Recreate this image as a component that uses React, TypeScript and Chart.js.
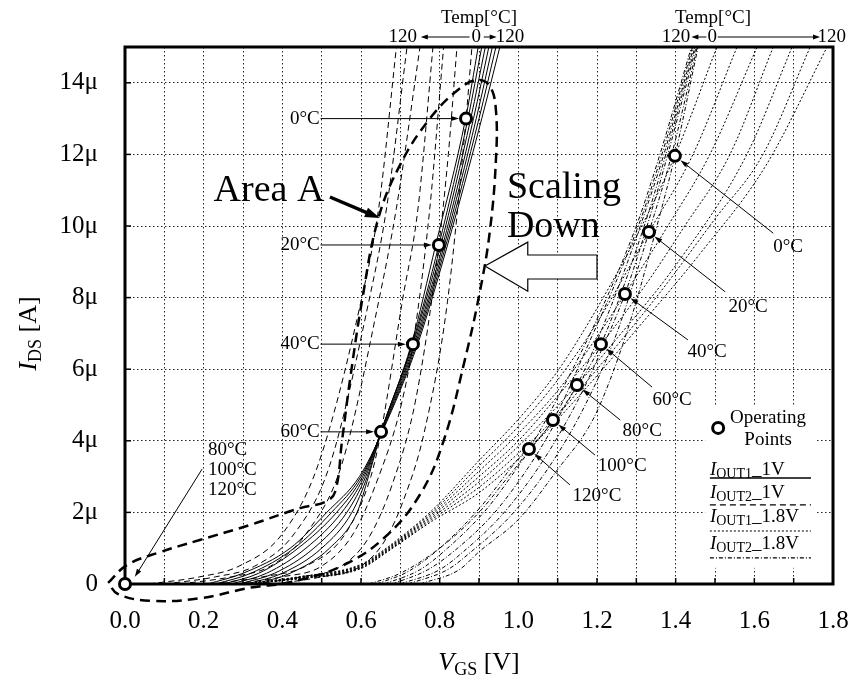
import React, { useEffect, useRef } from "react";
import { Chart, registerables } from "chart.js";

Chart.register(...registerables);

const SERIF = '"Liberation Serif", "Times New Roman", Times, serif';

// ---------- axis ticks ----------
const X_TICK_VALUES = [0, 0.1, 0.2, 0.3, 0.4, 0.5, 0.6, 0.7, 0.8, 0.9, 1.0, 1.1, 1.2, 1.3, 1.4, 1.5, 1.6, 1.7, 1.8];
const X_TICK_LABELS = ["0.0", "", "0.2", "", "0.4", "", "0.6", "", "0.8", "", "1.0", "", "1.2", "", "1.4", "", "1.6", "", "1.8"];
const Y_TICK_VALUES = [0, 2, 4, 6, 8, 10, 12, 14];
const Y_TICK_LABELS = ["0", "2μ", "4μ", "6μ", "8μ", "10μ", "12μ", "14μ"];

const TEMPS = [0, 20, 40, 60, 80, 100, 120];

// ---------- I_OUT1 @ 1V (solid), shared IDS levels [μA] ----------
const IOUT1_1V_IDS = [0, 0.3, 1.0, 2.0, 3.0, 4.25, 6.7, 9.47, 13, 15];
const IOUT1_1V_VGS = [
  [0.33, 0.42, 0.52, 0.590, 0.619, 0.652, 0.728, 0.790, 0.866, 0.898],
  [0.31, 0.40, 0.50, 0.577, 0.616, 0.651, 0.730, 0.798, 0.872, 0.907],
  [0.29, 0.38, 0.48, 0.564, 0.612, 0.650, 0.732, 0.803, 0.879, 0.916],
  [0.27, 0.36, 0.46, 0.551, 0.608, 0.651, 0.735, 0.808, 0.886, 0.925],
  [0.25, 0.34, 0.44, 0.538, 0.604, 0.652, 0.738, 0.812, 0.893, 0.934],
  [0.23, 0.32, 0.43, 0.525, 0.600, 0.653, 0.741, 0.816, 0.900, 0.943],
  [0.21, 0.30, 0.42, 0.513, 0.596, 0.654, 0.744, 0.820, 0.907, 0.953],
];

// ---------- I_OUT2 @ 1V (dashed) ----------
const IOUT2_1V_VGS = [
  [0.38, 0.50, 0.60, 0.66, 0.71, 0.76, 0.82, 0.867, 0.882],
  [0.33, 0.45, 0.55, 0.62, 0.68, 0.74, 0.798, 0.822, 0.844],
  [0.28, 0.40, 0.50, 0.58, 0.645, 0.70, 0.732, 0.775, 0.81],
  [0.22, 0.35, 0.46, 0.56, 0.625, 0.651, 0.705, 0.745, 0.783],
  [0.14, 0.27, 0.37, 0.46, 0.55, 0.645, 0.69, 0.75],
  [0.10, 0.23, 0.33, 0.43, 0.52, 0.62, 0.665, 0.717],
  [0.06, 0.19, 0.29, 0.40, 0.49, 0.60, 0.645, 0.69],
];
const IOUT2_1V_IDS = [
  [0, 0.2, 0.5, 1.2, 2.4, 4.2, 7.9, 13, 15],
  [0, 0.2, 0.5, 1.3, 2.8, 5.2, 9.47, 12, 15],
  [0, 0.2, 0.5, 1.4, 3.0, 4.9, 6.7, 10.5, 15],
  [0, 0.2, 0.5, 1.4, 3.0, 4.25, 7.9, 10.5, 15],
  [0, 0.2, 0.5, 1.4, 3.3, 7.9, 10.5, 15],
  [0, 0.2, 0.5, 1.4, 3.3, 7.9, 10.5, 15],
  [0, 0.2, 0.5, 1.4, 3.3, 7.9, 10.5, 15],
];

// ---------- I_OUT1 @ 1.8V (dotted) ----------
const IOUT1_18V_VGS = [
  [0.30, 0.44, 0.60, 0.67, 0.78, 0.90, 1.00, 1.10, 1.20, 1.30, 1.398, 1.505],
  [0.30, 0.44, 0.60, 0.67, 0.78, 0.90, 1.00, 1.10, 1.20, 1.332, 1.444, 1.556],
  [0.30, 0.44, 0.60, 0.67, 0.78, 0.90, 1.00, 1.10, 1.20, 1.271, 1.38, 1.487, 1.607],
  [0.30, 0.44, 0.60, 0.67, 0.78, 0.90, 1.00, 1.10, 1.21, 1.32, 1.42, 1.538, 1.648],
  [0.30, 0.44, 0.60, 0.67, 0.78, 0.90, 1.00, 1.149, 1.25, 1.40, 1.581, 1.696],
  [0.30, 0.44, 0.60, 0.67, 0.78, 0.90, 1.00, 1.088, 1.20, 1.35, 1.50, 1.622, 1.742],
  [0.30, 0.44, 0.60, 0.67, 0.78, 0.90, 1.027, 1.15, 1.30, 1.46, 1.63, 1.785],
];
const IOUT1_18V_IDS = [
  [0, 0.20, 0.55, 1.05, 2.05, 3.45, 4.6, 5.95, 7.7, 9.7, 11.96, 15],
  [0, 0.19, 0.53, 1.02, 2.0, 3.3, 4.4, 5.7, 7.3, 9.83, 12, 15],
  [0, 0.18, 0.51, 1.0, 1.95, 3.15, 4.2, 5.4, 6.9, 8.1, 10.0, 12, 15],
  [0, 0.17, 0.49, 0.98, 1.9, 3.0, 4.0, 5.25, 6.7, 8.3, 9.95, 12, 15],
  [0, 0.16, 0.47, 0.96, 1.85, 2.85, 3.85, 5.56, 6.85, 8.9, 12, 15],
  [0, 0.15, 0.45, 0.94, 1.8, 2.7, 3.65, 4.58, 6.0, 8.0, 10.2, 12, 15],
  [0, 0.14, 0.43, 0.92, 1.75, 2.55, 3.77, 5.2, 7.1, 9.2, 11.7, 15],
];

// ---------- I_OUT2 @ 1.8V (dash-dot) ----------
const IOUT2_18V_VGS = [
  [0.75, 0.85, 0.90, 1.00, 1.10, 1.19, 1.25, 1.30, 1.35, 1.398, 1.457],
  [0.72, 0.82, 0.88, 0.98, 1.08, 1.17, 1.25, 1.332, 1.39, 1.455],
  [0.70, 0.80, 0.86, 0.96, 1.06, 1.15, 1.21, 1.271, 1.33, 1.38, 1.452],
  [0.68, 0.77, 0.84, 0.94, 1.04, 1.12, 1.21, 1.32, 1.375, 1.449],
  [0.66, 0.75, 0.82, 0.92, 1.02, 1.149, 1.23, 1.31, 1.37, 1.446],
  [0.64, 0.72, 0.80, 0.90, 1.00, 1.088, 1.17, 1.305, 1.365, 1.443],
  [0.62, 0.70, 0.80, 0.90, 0.96, 1.027, 1.10, 1.20, 1.30, 1.36, 1.44],
];
const IOUT2_18V_IDS = [
  [0, 0.4, 0.9, 1.8, 3.2, 4.6, 6.2, 7.9, 9.9, 11.96, 15],
  [0, 0.4, 0.9, 1.9, 3.3, 5.0, 7.0, 9.83, 12, 15],
  [0, 0.4, 0.9, 1.95, 3.4, 5.1, 6.5, 8.1, 10.1, 12, 15],
  [0, 0.4, 0.95, 2.0, 3.5, 5.0, 6.7, 10.0, 12, 15],
  [0, 0.4, 1.0, 2.1, 3.6, 5.56, 7.6, 10.0, 12, 15],
  [0, 0.35, 1.0, 2.1, 3.5, 4.58, 6.5, 10.0, 12, 15],
  [0, 0.3, 1.0, 2.0, 2.8, 3.77, 5.2, 7.4, 10.0, 12, 15],
];

// ---------- operating points ----------
const OP_1V_LABELS = ["0°C", "20°C", "40°C", "60°C"];
const OP_1V_VGS = [0.867, 0.798, 0.732, 0.651, 0];
const OP_1V_IDS = [13.0, 9.47, 6.7, 4.25, 0];
const OP_18V_LABELS = ["0°C", "20°C", "40°C", "60°C", "80°C", "100°C", "120°C"];
const OP_18V_VGS = [1.398, 1.332, 1.271, 1.21, 1.149, 1.088, 1.027];
const OP_18V_IDS = [11.96, 9.83, 8.1, 6.7, 5.56, 4.58, 3.77];
const OFF_LABELS = ["80°C", "100°C", "120°C"];

// ---------- "Area A" outline ----------
const AREA_A_VGS = [-0.043, 0.005, 0.089, 0.19, 0.318, 0.445, 0.508, 0.534, 0.552, 0.572, 0.603, 0.643, 0.699, 0.775, 0.852, 0.898, 0.928, 0.943, 0.943, 0.928, 0.903, 0.864, 0.81, 0.75, 0.66, 0.55, 0.42, 0.32, 0.19, 0.064, -0.018, -0.043];
const AREA_A_IDS = [0.03, 0.53, 0.89, 1.23, 1.65, 2.12, 2.29, 2.57, 4.02, 5.7, 7.93, 10.17, 11.7, 13.0, 13.85, 14.08, 13.9, 13.24, 11.84, 9.89, 8.21, 6.26, 4.0, 2.5, 1.3, 0.5, 0.05, -0.1, -0.4, -0.47, -0.28, 0.03];

type Part = { t: string; f: string; dy?: number };

function drawRich(ctx: CanvasRenderingContext2D, parts: Part[], x: number, y: number, align: "left" | "center" | "right") {
  let w = 0;
  for (const p of parts) {
    ctx.font = p.f;
    w += ctx.measureText(p.t).width;
  }
  let cx = align === "left" ? x : align === "center" ? x - w / 2 : x - w;
  ctx.textAlign = "left";
  for (const p of parts) {
    ctx.font = p.f;
    ctx.fillText(p.t, cx, y + (p.dy || 0));
    cx += ctx.measureText(p.t).width;
  }
}

function arrow(ctx: CanvasRenderingContext2D, x1: number, y1: number, x2: number, y2: number, head = 7, lw = 1, hw = 2.5) {
  const a = Math.atan2(y2 - y1, x2 - x1);
  const c = Math.cos(a), s = Math.sin(a);
  ctx.lineWidth = lw;
  ctx.setLineDash([]);
  ctx.beginPath();
  ctx.moveTo(x1, y1);
  ctx.lineTo(x2 - c * head * 0.7, y2 - s * head * 0.7);
  ctx.stroke();
  ctx.beginPath();
  ctx.moveTo(x2, y2);
  ctx.lineTo(x2 - head * c + hw * s, y2 - head * s - hw * c);
  ctx.lineTo(x2 - head * c - hw * s, y2 - head * s + hw * c);
  ctx.closePath();
  ctx.fill();
}

const framePlugin = {
  id: "frame",
  beforeDatasetsDraw(chart: any) {
    const { ctx, chartArea: ca, scales } = chart;
    const xs = scales.x, ys = scales.y;
    ctx.save();
    ctx.strokeStyle = "#000";
    ctx.fillStyle = "#000";
    ctx.setLineDash([]);
    ctx.lineWidth = 1.5;
    for (const v of X_TICK_VALUES) {
      const p = xs.getPixelForValue(v);
      ctx.beginPath();
      ctx.moveTo(p, ca.bottom);
      ctx.lineTo(p, ca.bottom - 6);
      ctx.stroke();
    }
    for (const v of Y_TICK_VALUES) {
      const p = ys.getPixelForValue(v);
      ctx.beginPath();
      ctx.moveTo(ca.left, p);
      ctx.lineTo(ca.left + 6, p);
      ctx.stroke();
    }
    ctx.lineWidth = 3;
    ctx.strokeRect(ca.left, ca.top, ca.right - ca.left, ca.bottom - ca.top);
    ctx.restore();
  },
};

const annotPlugin = {
  id: "annot",
  afterDatasetsDraw(chart: any) {
    const { ctx, chartArea: ca, scales } = chart;
    const X = (v: number) => scales.x.getPixelForValue(v);
    const Y = (v: number) => scales.y.getPixelForValue(v);
    const f19 = `19px ${SERIF}`;
    ctx.save();
    ctx.strokeStyle = "#000";
    ctx.fillStyle = "#000";
    ctx.textBaseline = "middle";

    // legend box
    ctx.fillStyle = "#fff";
    ctx.fillRect(X(1.475), Y(5.0), X(1.755) - X(1.475), Y(0.45) - Y(5.0));
    ctx.fillStyle = "#000";
    ctx.lineWidth = 3;
    ctx.beginPath();
    ctx.arc(X(1.508), Y(4.36), 5.5, 0, Math.PI * 2);
    ctx.stroke();
    ctx.font = f19;
    ctx.textAlign = "center";
    ctx.fillText("Operating", X(1.635), Y(4.64));
    ctx.fillText("Points", X(1.635), Y(4.02));
    const legItems = [
      { sub: "OUT1", tail: "_1V", dash: [] as number[], lw: 1.5 },
      { sub: "OUT2", tail: "_1V", dash: [6, 4], lw: 1.2 },
      { sub: "OUT1", tail: "_1.8V", dash: [2, 2], lw: 1.2 },
      { sub: "OUT2", tail: "_1.8V", dash: [4, 2, 1, 2], lw: 1.2 },
    ];
    const legText = [3.18, 2.54, 1.87, 1.12];
    const legLine = [2.96, 2.21, 1.48, 0.73];
    legItems.forEach((it, i) => {
      drawRich(ctx, [
        { t: "I", f: `italic 19px ${SERIF}` },
        { t: it.sub, f: `14px ${SERIF}`, dy: 4 },
        { t: it.tail, f: f19 },
      ], X(1.487), Y(legText[i]), "left");
      ctx.setLineDash(it.dash);
      ctx.lineWidth = it.lw;
      ctx.beginPath();
      ctx.moveTo(X(1.487), Y(legLine[i]));
      ctx.lineTo(X(1.744), Y(legLine[i]));
      ctx.stroke();
    });
    ctx.setLineDash([]);

    // 1V operating point labels
    ctx.font = f19;
    OP_1V_LABELS.forEach((lab, i) => {
      const y = Y(OP_1V_IDS[i]);
      ctx.textAlign = "right";
      ctx.fillText(lab, X(0.495), y);
      arrow(ctx, X(0.497), y, X(OP_1V_VGS[i]) - 7, y, 8, 1, 2.5);
    });
    ctx.textAlign = "left";
    const offY = [3.74, 3.18, 2.63];
    OFF_LABELS.forEach((lab, i) => ctx.fillText(lab, X(0.211), Y(offY[i])));
    arrow(ctx, X(0.196), Y(3.21), X(0.025), Y(0.2), 8, 1, 2.5);

    // 1.8V operating point labels
    const textPos = [[1.686, 9.41], [1.584, 7.74], [1.48, 6.48], [1.391, 5.14], [1.315, 4.27], [1.264, 3.3], [1.2, 2.46]];
    const fromPos = [[1.648, 9.8], [1.526, 8.16], [1.431, 6.82], [1.34, 5.5], [1.259, 4.58], [1.195, 3.6], [1.131, 2.77]];
    OP_18V_LABELS.forEach((lab, i) => {
      ctx.textAlign = "center";
      ctx.fillText(lab, X(textPos[i][0]), Y(textPos[i][1]));
      const x1 = X(fromPos[i][0]), y1 = Y(fromPos[i][1]);
      const cx = X(OP_18V_VGS[i]), cy = Y(OP_18V_IDS[i]);
      const d = Math.hypot(cx - x1, cy - y1);
      arrow(ctx, x1, y1, cx - ((cx - x1) / d) * 7, cy - ((cy - y1) / d) * 7, 8, 1, 2.5);
    });

    // Area A
    ctx.font = `38px ${SERIF}`;
    ctx.textAlign = "center";
    ctx.textBaseline = "alphabetic";
    ctx.fillText("Area A", X(0.366), Y(10.7));
    arrow(ctx, X(0.521), Y(10.81), X(0.648), Y(10.22), 15, 3.5, 5);

    // Scaling Down
    ctx.textAlign = "left";
    ctx.fillText("Scaling", X(0.971), Y(10.78));
    ctx.fillText("Down", X(0.971), Y(9.69));
    const poly = [[0.915, 8.88], [1.024, 9.55], [1.024, 9.19], [1.2, 9.19], [1.2, 8.52], [1.024, 8.52], [1.024, 8.18]];
    ctx.beginPath();
    poly.forEach((p, i) => (i ? ctx.lineTo(X(p[0]), Y(p[1])) : ctx.moveTo(X(p[0]), Y(p[1]))));
    ctx.closePath();
    ctx.fillStyle = "#fff";
    ctx.fill();
    ctx.lineWidth = 1.2;
    ctx.stroke();
    ctx.fillStyle = "#000";

    // Temp headers above the frame
    ctx.textBaseline = "middle";
    ctx.font = f19;
    ctx.textAlign = "center";
    const hy = ca.top - 29, ry = ca.top - 10;
    ctx.fillText("Temp[°C]", X(0.9), hy);
    ctx.fillText("Temp[°C]", X(1.495), hy);
    ctx.fillText("120", X(0.706), ry);
    ctx.fillText("0", X(0.893), ry);
    ctx.fillText("120", X(0.979), ry);
    arrow(ctx, X(0.876), ry, X(0.752), ry, 7, 1, 2.5);
    arrow(ctx, X(0.912), ry, X(0.945), ry, 7, 1, 2.5);
    ctx.fillText("120", X(1.401), ry);
    ctx.fillText("0", X(1.493), ry);
    ctx.fillText("120", X(1.797), ry);
    arrow(ctx, X(1.478), ry, X(1.44), ry, 7, 1, 2.5);
    arrow(ctx, X(1.507), ry, X(1.767), ry, 7, 1, 2.5);

    // Axis titles
    ctx.textBaseline = "alphabetic";
    drawRich(ctx, [
      { t: "V", f: `italic 26px ${SERIF}` },
      { t: "GS", f: `18px ${SERIF}`, dy: 5 },
      { t: " [V]", f: `26px ${SERIF}` },
    ], (ca.left + ca.right) / 2, ca.bottom + 86, "center");
    ctx.save();
    ctx.translate(36, (ca.top + ca.bottom) / 2 + 18);
    ctx.rotate(-Math.PI / 2);
    drawRich(ctx, [
      { t: "I", f: `italic 26px ${SERIF}` },
      { t: "DS", f: `18px ${SERIF}`, dy: 5 },
      { t: " [A]", f: `26px ${SERIF}` },
    ], 0, 0, "center");
    ctx.restore();
    ctx.restore();
  },
};

function lineDs(vgs: number[], ids: number[], dash: number[], width = 1) {
  return {
    data: vgs.map((v, i) => ({ x: v, y: ids[i] })),
    borderColor: "#000",
    borderWidth: width,
    borderDash: dash,
    pointRadius: 0,
    fill: false,
    cubicInterpolationMode: "monotone",
    order: 2,
  };
}

export default function App() {
  const ref = useRef<HTMLCanvasElement | null>(null);
  useEffect(() => {
    if (!ref.current) return;
    const datasets: any[] = [];
    datasets.push({
      data: OP_1V_VGS.map((v, i) => ({ x: v, y: OP_1V_IDS[i] })).concat(OP_18V_VGS.map((v, i) => ({ x: v, y: OP_18V_IDS[i] }))),
      showLine: false,
      pointRadius: 5.5,
      pointBorderWidth: 3,
      pointBackgroundColor: "#fff",
      pointBorderColor: "#000",
      clip: false,
      order: 0,
    });
    datasets.push({
      data: AREA_A_VGS.map((v, i) => ({ x: v, y: AREA_A_IDS[i] })),
      borderColor: "#000",
      borderWidth: 2.5,
      borderDash: [10, 6],
      pointRadius: 0,
      tension: 0.4,
      fill: false,
      clip: false,
      order: 1,
    });
    TEMPS.forEach((_, k) => {
      datasets.push(lineDs(IOUT1_1V_VGS[k], IOUT1_1V_IDS, [], 1));
      datasets.push(lineDs(IOUT2_1V_VGS[k], IOUT2_1V_IDS[k], [6, 4], 1));
      datasets.push(lineDs(IOUT1_18V_VGS[k], IOUT1_18V_IDS[k], [2, 2], 1));
      datasets.push(lineDs(IOUT2_18V_VGS[k], IOUT2_18V_IDS[k], [4, 2, 1, 2], 1));
    });

    const tickFont = { family: SERIF, size: 25 };
    const chart = new Chart(ref.current, {
      type: "line",
      data: { datasets },
      options: {
        responsive: false,
        animation: false,
        devicePixelRatio: 1,
        events: [],
        layout: { padding: { top: 47, right: 19, left: 0, bottom: 0 } },
        plugins: { legend: { display: false }, tooltip: { enabled: false } },
        scales: {
          x: {
            type: "linear",
            min: 0,
            max: 1.8,
            afterFit: (s: any) => { s.height = 95; s.paddingLeft = 0; s.paddingRight = 0; },
            afterBuildTicks: (s: any) => { s.ticks = X_TICK_VALUES.map((v) => ({ value: v })); },
            ticks: {
              autoSkip: false,
              maxRotation: 0,
              padding: 22,
              color: "#000",
              font: tickFont,
              callback: (_v: any, i: number) => X_TICK_LABELS[i],
            },
            grid: { color: "#222", lineWidth: 1, drawTicks: false },
            border: { display: false, dash: [1.5, 2.5] },
          },
          y: {
            type: "linear",
            min: 0,
            max: 15,
            afterFit: (s: any) => { s.width = 125; s.paddingTop = 0; s.paddingBottom = 0; },
            afterBuildTicks: (s: any) => { s.ticks = Y_TICK_VALUES.map((v) => ({ value: v })); },
            ticks: {
              autoSkip: false,
              padding: 27,
              color: "#000",
              font: tickFont,
              callback: (_v: any, i: number) => Y_TICK_LABELS[i],
            },
            grid: { color: "#222", lineWidth: 1, drawTicks: false },
            border: { display: false, dash: [1.5, 2.5] },
          },
        },
      } as any,
      plugins: [framePlugin, annotPlugin],
    });
    return () => chart.destroy();
  }, []);

  return (
    <div style={{ position: "fixed", left: 0, top: 0, width: 852, height: 679, background: "#fff" }}>
      <canvas ref={ref} width={852} height={679} style={{ display: "block" }} />
    </div>
  );
}
